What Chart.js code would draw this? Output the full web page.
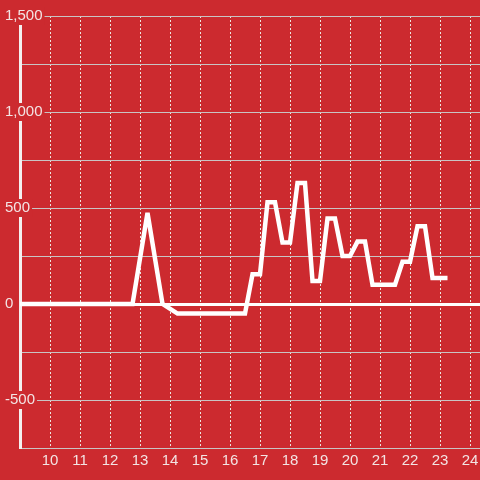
<!DOCTYPE html>
<html>
<head>
<meta charset="utf-8">
<script src="https://cdn.jsdelivr.net/npm/chart.js@4/dist/chart.umd.min.js"></script>
<style>
  html, body { margin: 0; padding: 0; background: #cc2a2f; }
  #wrap { width: 480px; height: 480px; }
</style>
</head>
<body>
<div id="wrap"><canvas id="chart"></canvas></div>
<script>
// hour of day for each vertex of the line
const hours = [9, 12.75, 13.25, 13.75, 14.25, 16.5, 16.75, 17, 17.25, 17.5, 17.75, 18,
  18.25, 18.5, 18.75, 19, 19.25, 19.5, 19.75, 20, 20.25, 20.5, 20.75, 21.5,
  21.75, 22, 22.25, 22.5, 22.75, 23.25];
const values = [0, 0, 475, 0, -50, -50, 155, 155, 530, 530, 320, 320,
  630, 630, 120, 120, 445, 445, 250, 250, 325, 325, 100, 100,
  220, 220, 405, 405, 135, 135];
const xTicks = [10, 11, 12, 13, 14, 15, 16, 17, 18, 19, 20, 21, 22, 23, 24];
const yLabelled = [1500, 1000, 500, 0, -500];

const bg = '#cc2a2f';
const gridGray = '#c9c4c4';
const labelColor = '#f3e4e4';

Chart.defaults.font.family = '"Liberation Sans", Arial, sans-serif';
Chart.defaults.font.size = 15;
Chart.defaults.color = labelColor;

// sharp spikes get cut off like an svg path with the default miter limit
const miterLimit = {
  id: 'miterLimit',
  beforeDatasetsDraw(chart) { chart.ctx.miterLimit = 4; }
};

new Chart(document.getElementById('chart'), {
  type: 'line',
  data: {
    datasets: [{
      data: hours.map((h, i) => ({ x: h, y: values[i] })),
      borderColor: '#ffffff',
      borderWidth: 4.5,
      pointRadius: 0,
      tension: 0,
      fill: false
    }]
  },
  options: {
    responsive: true,
    maintainAspectRatio: false,
    animation: false,
    layout: { padding: { left: 5, top: 16, right: 0, bottom: 6 } },
    plugins: { legend: { display: false }, tooltip: { enabled: false } },
    scales: {
      x: {
        type: 'linear',
        min: 9,
        max: 24.333,
        afterBuildTicks(axis) {
          axis.ticks = xTicks.map(v => ({ value: v }));
        },
        afterFit(scale) { scale.paddingLeft = 0; scale.paddingRight = 0; },
        ticks: { padding: 4, color: labelColor, callback: v => String(v) },
        grid: { color: '#ece6e0', lineWidth: 1, drawTicks: false },
        border: { color: gridGray, width: 1, dash: [2, 2] }
      },
      y: {
        min: -750,
        max: 1500,
        // labels sit over the axis line, so the axis itself is kept narrow
        afterFit(scale) { scale.width = 15; },
        ticks: {
          stepSize: 250,
          mirror: true,
          padding: -15,
          color: labelColor,
          showLabelBackdrop: ctx => yLabelled.includes(ctx.tick.value),
          backdropColor: bg,
          backdropPadding: { left: 2, right: 2, top: 0, bottom: 0 },
          callback: v => yLabelled.includes(v) ? v.toLocaleString('en-US') : ''
        },
        grid: {
          drawTicks: false,
          color: ctx => ctx.tick && ctx.tick.value === 0 ? '#ffffff' : gridGray,
          lineWidth: ctx => ctx.tick && ctx.tick.value === 0 ? 3 : 1
        },
        border: { color: '#f4f0f0', width: 3 }
      }
    }
  },
  plugins: [miterLimit]
});
</script>
</body>
</html>
